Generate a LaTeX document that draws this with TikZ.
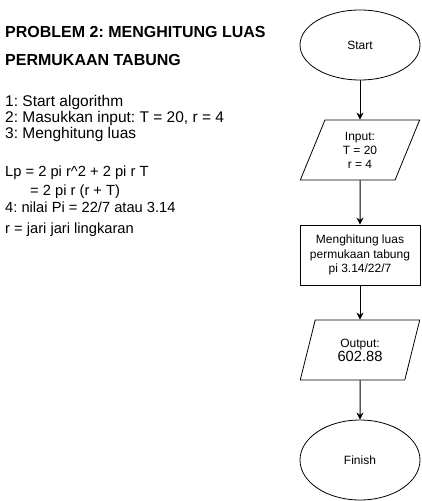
\documentclass[tikz,border=0pt]{standalone}
\usepackage{fontspec}
\setmainfont{Liberation Sans}
\usepackage{tikz}
\usetikzlibrary{arrows.meta, shapes.geometric}
\tikzset{flowline/.style={-{Stealth[length=7pt, width=7pt]}, line width=1pt}}
\frenchspacing

\begin{document}
\begin{tikzpicture}[
        line join=bevel,
        terminal/.style={shape=ellipse, draw=black, line width=0.8pt, minimum width=120pt, inner sep=0pt, font=\fontsize{12pt}{14pt}\selectfont},
        iobox/.style={shape=trapezium, trapezium left angle=71.57, trapezium right angle=108.43, trapezium stretches=true, draw=black, line width=0.8pt, minimum width=120pt, minimum height=60pt, inner sep=0pt, align=center, font=\fontsize{12pt}{14pt}\selectfont},
        processbox/.style={shape=rectangle, draw=black, line width=0.8pt, minimum width=120pt, minimum height=60pt, inner sep=0pt, align=center, font=\fontsize{12pt}{14.5pt}\selectfont},
        titletext/.style={anchor=base west, inner sep=0pt, font=\fontsize{16pt}{16pt}\selectfont\bfseries},
        steptext/.style={anchor=base west, inner sep=0pt, font=\fontsize{15.5pt}{15.5pt}\selectfont},
        notetext/.style={anchor=base west, inner sep=0pt, font=\fontsize{14.7pt}{14.7pt}\selectfont}
    ]
        \useasboundingbox (0pt, 0pt) rectangle (421pt, -501pt);
        % Title
        \node[titletext] (title1) at (5pt, -37pt) {PROBLEM 2: MENGHITUNG LUAS};
        \node[titletext] (title2) at (5pt, -65pt) {PERMUKAAN TABUNG};
        % Steps
        \node[steptext] (step1) at (5pt, -106pt) {1: Start algorithm};
        \node[steptext] (step2) at (5pt, -122pt) {2: Masukkan input: T = 20, r = 4};
        \node[steptext] (step3) at (5pt, -138pt) {3: Menghitung luas};
        \node[notetext] (formula1) at (5pt, -176pt) {Lp = 2 pi r\^{}2 + 2 pi r T};
        \node[notetext] (formula2) at (30pt, -195pt) {= 2 pi r (r + T)};
        \node[notetext] (step4) at (5pt, -212pt) {4: nilai Pi = 22/7 atau 3.14};
        \node[notetext] (radius) at (5pt, -233pt) {r = jari jari lingkaran};
        % Flowchart
        \node[terminal, minimum height=70pt] (start) at (360pt, -45pt) {Start};
        \node[iobox] (input) at (360pt, -150pt) {Input:\\T = 20\\r = 4};
        \node[processbox] (hitung) at (360pt, -255pt) {Menghitung luas\\permukaan tabung\\pi 3.14/22/7};
        \node[iobox] (output) at (360pt, -350pt) {Output:\\{\fontsize{14.7pt}{17pt}\selectfont 602.88}};
        \node[terminal, minimum height=80pt] (finish) at (360pt, -460pt) {Finish};
        % Arrows
        \foreach \from/\to in {start/input, input/hitung, hitung/output, output/finish} {
            \draw[flowline] (\from) -- (\to);
        }
    \end{tikzpicture}
\end{document}
